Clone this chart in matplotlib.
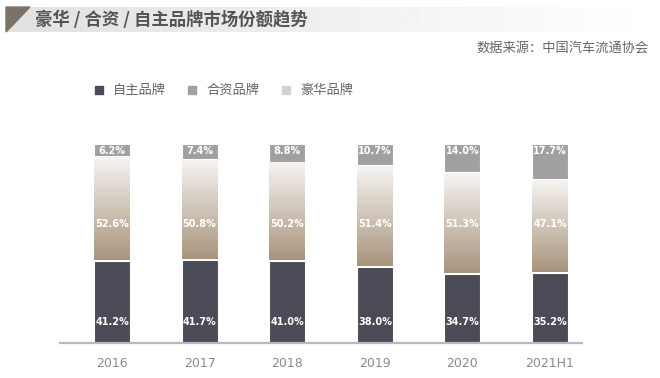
import numpy as np
import matplotlib
matplotlib.use("Agg")
import matplotlib.pyplot as plt
from matplotlib.colors import LinearSegmentedColormap
from matplotlib.patches import Polygon, Rectangle

plt.rcParams['font.family'] = ['Noto Sans CJK SC', 'DejaVu Sans']

years = ["2016", "2017", "2018", "2019", "2020", "2021H1"]
domestic = [41.2, 41.7, 41.0, 38.0, 34.7, 35.2]   # 自主品牌
joint = [52.6, 50.8, 50.2, 51.4, 51.3, 47.1]      # 合资品牌 (gradient)
luxury = [6.2, 7.4, 8.8, 10.7, 14.0, 17.7]        # 豪华品牌 (top)
legend_names = ["自主品牌", "合资品牌", "豪华品牌"]

W, H = 660, 378
fig = plt.figure(figsize=(6.6, 3.78), dpi=100)

# title banner
bg = fig.add_axes([0, 0, 1, 1], zorder=0)
bg.set_xlim(0, W)
bg.set_ylim(H, 0)
bg.axis("off")
band = np.linspace(0.88, 1.0, 256).reshape(1, -1)
bg.imshow(band, cmap="gray", vmin=0, vmax=1, extent=(6, 652, 32, 7), aspect="auto")
bg.add_patch(Polygon([(6, 7), (30, 7), (6, 32)], closed=True, color="#7b7367"))
bg.text(35, 20, "豪华 / 合资 / 自主品牌市场份额趋势", fontsize=12.5, fontweight="bold",
        color="#555555", va="center", ha="left")
bg.text(649, 48, "数据来源：中国汽车流通协会", fontsize=9.5, color="#666666",
        va="center", ha="right")

# legend
leg_colors = ["#4a4b57", "#a0a0a0", "#d2d2d2"]
leg_x = [95, 188, 282]
for lx, c, name in zip(leg_x, leg_colors, legend_names):
    bg.add_patch(Rectangle((lx, 86), 8, 8, color=c))
    bg.text(lx + 18, 90.5, name, fontsize=9.5, color="#666666", va="center", ha="left")

# chart
ax = fig.add_axes([60 / W, 1 - 343 / H, 522 / W, 199 / H], zorder=1)
ax.patch.set_alpha(0)
x = np.arange(len(years))
w = 0.41

dom = np.array(domestic)
jnt = np.array(joint)
lux = np.array(luxury)

ax.bar(x, dom, w, color="#4a4b57", edgecolor="white", linewidth=0.8, zorder=2)
ax.bar(x, lux, w, bottom=dom + jnt, color="#a0a0a0", edgecolor="white", linewidth=0.8, zorder=2)

grad = LinearSegmentedColormap.from_list("g", ["#f6f4f2", "#a8947c"])
g = np.linspace(0, 1, 256).reshape(-1, 1)
for xi, b, h in zip(x, dom, jnt):
    ax.imshow(g, cmap=grad, extent=(xi - w / 2, xi + w / 2, b + 0.6, b + h - 0.6),
              aspect="auto", zorder=2)
ax.set_xlim(-0.594, 5.365)
ax.set_ylim(0, 100)

lab = dict(color="white", fontsize=7, fontweight="bold", ha="center", va="center",
           family="DejaVu Sans", zorder=3)
for xi, d, j, l in zip(x, domestic, joint, luxury):
    ax.text(xi, 10.5, f"{d:.1f}%", **lab)
    ax.text(xi, 60, f"{j:.1f}%", **lab)
    ax.text(xi, 96.6, f"{l:.1f}%", **lab)

for s in ["top", "right", "left"]:
    ax.spines[s].set_visible(False)
ax.spines["bottom"].set_color("#b8b8c2")
ax.spines["bottom"].set_linewidth(1.6)
ax.set_yticks([])
ax.set_xticks(x)
ax.set_xticklabels(years, fontsize=9, color="#8a8a8a", family="DejaVu Sans")
ax.tick_params(axis="x", length=0, pad=10)

fig.savefig("out.png", dpi=100)
